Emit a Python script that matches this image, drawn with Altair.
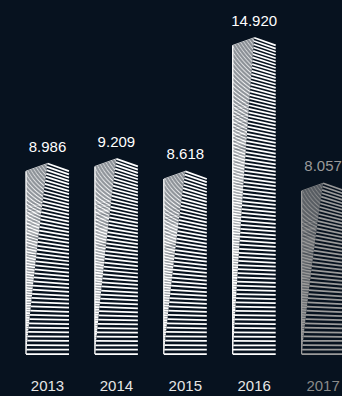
import altair as alt
import pandas as pd

years = ["2013", "2014", "2015", "2016", "2017"]
values = [8.986, 9.209, 8.618, 14.920, 8.057]
value_labels = ["8.986", "9.209", "8.618", "14.920", "8.057"]
active = [True, True, True, True, False]

BG = "#07121f"
HALF = 0.312      # half bar width in slot units
ROOF = 0.36       # roof drop in value units
STEP = 0.175      # floor spacing in value units

rows = []
lid = 0
for i, (v, on) in enumerate(zip(values, active)):
    left = i - HALF
    right = i + HALF
    col = "#ffffff" if on else "#9a9a9a"
    n = int(round((v - ROOF) / STEP))

    def geom(t):
        g = t * 1.15 - 0.15 * t * t
        yk = v * g
        yr = yk - ROOF * t ** 1.5 * (2 - t)
        xk = left + HALF * t
        yl = yk - ROOF * t ** 2.5
        return xk, yk, yr, yl

    # right face (floors)
    for k in range(n + 1):
        t = k / n
        xk, yk, yr, yl = geom(t)
        rows.append(dict(id=lid, o=0, x=xk, y=yk, c=col, w=1.75, a=1.0))
        rows.append(dict(id=lid, o=1, x=right, y=yr, c=col, w=1.75, a=1.0))
        lid += 1
    # left face (denser, thinner, whiter towards the bottom)
    m = int(2.5 * n)
    for k in range(m + 1):
        t = k / m
        xk, yk, yr, yl = geom(t)
        w = 1.7 - 0.9 * t
        rows.append(dict(id=lid, o=0, x=left, y=yl, c=col, w=w, a=1.0))
        rows.append(dict(id=lid, o=1, x=xk, y=yk, c=col, w=w, a=1.0))
        lid += 1
    # left edge
    rows.append(dict(id=lid, o=0, x=left, y=0, c=col, w=1.3, a=1.0))
    rows.append(dict(id=lid, o=1, x=left, y=v - ROOF, c=col, w=1.3, a=1.0))
    lid += 1

lines = pd.DataFrame(rows)

labels = pd.DataFrame({
    "slot": list(range(len(years))),
    "year": years,
    "value": values,
    "vlabel": value_labels,
    "ycol": ["#e6e6e6" if a else "#8a8a8a" for a in active],
    "vcol": ["#ffffff" if a else "#9a9a9a" for a in active],
})
labels["vy"] = labels["value"] + 0.80
labels["yy"] = -1.53

xs = alt.Scale(domain=[-0.689, 4.274], nice=False, zero=False)
ys = alt.Scale(domain=[-1.98, 16.70], nice=False, zero=False)

bars = alt.Chart(lines).mark_line(strokeCap="butt", interpolate="linear").encode(
    x=alt.X("x:Q", scale=xs, axis=None),
    y=alt.Y("y:Q", scale=ys, axis=None),
    detail="id:N",
    order="o:Q",
    color=alt.Color("c:N", scale=None),
    strokeWidth=alt.StrokeWidth("w:Q", scale=None),
    opacity=alt.Opacity("a:Q", scale=None),
)

vtext = alt.Chart(labels).mark_text(font="Liberation Sans", fontSize=15, baseline="middle").encode(
    x=alt.X("slot:Q", scale=xs, axis=None),
    y=alt.Y("vy:Q", scale=ys, axis=None),
    text="vlabel:N",
    color=alt.Color("vcol:N", scale=None),
)

ytext = alt.Chart(labels).mark_text(font="Liberation Sans", fontSize=15, baseline="middle").encode(
    x=alt.X("slot:Q", scale=xs, axis=None),
    y=alt.Y("yy:Q", scale=ys, axis=None),
    text="year:N",
    color=alt.Color("ycol:N", scale=None),
)

chart = alt.layer(bars, vtext, ytext).properties(
    width=342, height=396, background=BG, padding=0,
    autosize=alt.AutoSizeParams(type="none"),
).configure_view(stroke=None)

chart.save("out.html", embed_options={"renderer": "svg", "actions": False})
